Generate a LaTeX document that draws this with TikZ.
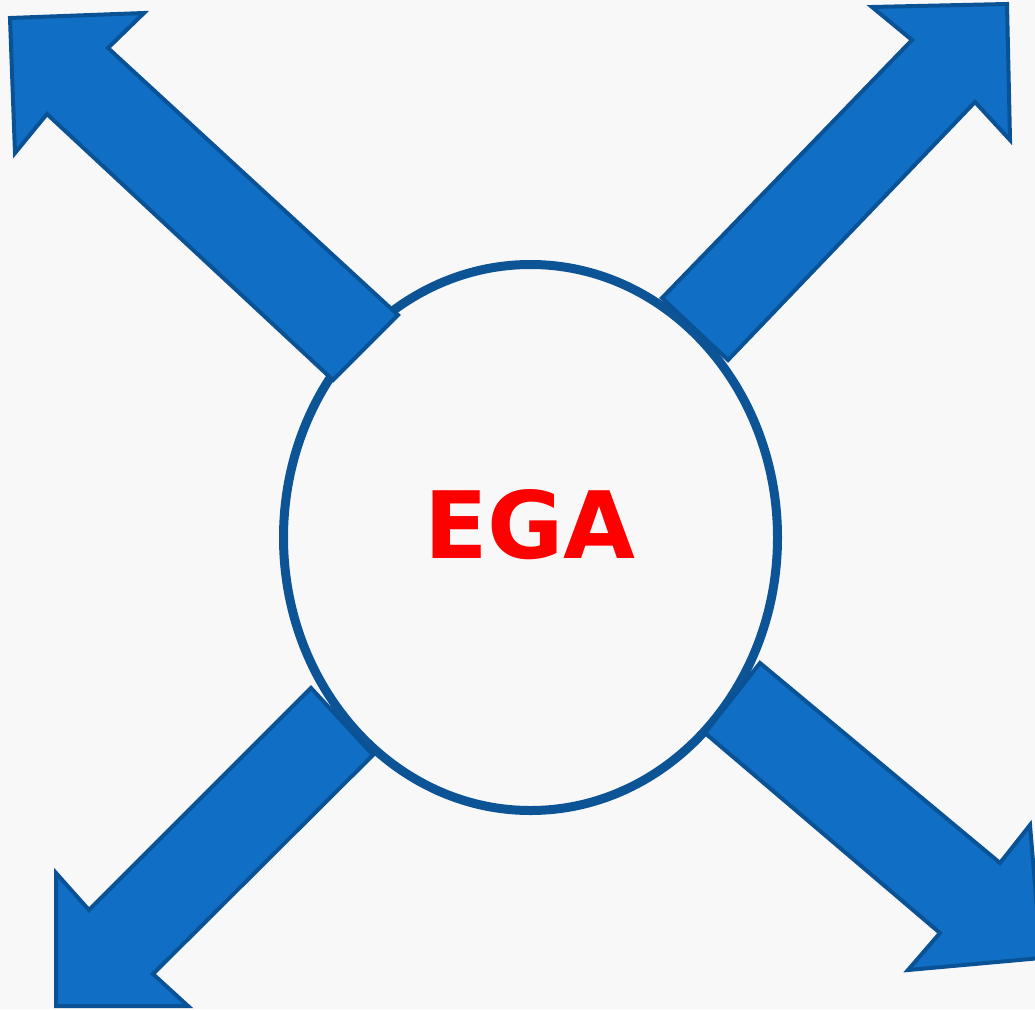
\documentclass[tikz,border=0pt]{standalone}
\usepackage{fontspec}
\newfontfamily\egafont{DejaVu Sans}
\usetikzlibrary{shapes.geometric}
\definecolor{bg}{RGB}{248,248,248}
\definecolor{arrowfill}{RGB}{16,111,196}
\definecolor{arrowline}{RGB}{10,82,150}
\definecolor{ringline}{RGB}{12,84,150}
\definecolor{egared}{RGB}{255,0,0}
\tikzset{
  blockarrow/.style={fill=arrowfill, draw=arrowline, line width=4pt, line join=miter},
  ring/.style={draw=ringline, line width=9pt, ellipse, minimum width=494pt, minimum height=546pt, inner sep=0pt},
  egatext/.style={font=\egafont\bfseries\fontsize{93}{93}\selectfont, text=egared, inner sep=0pt}
}
\begin{document}
\begin{tikzpicture}[x=1pt,y=-1pt]
\fill[bg] (0,0) rectangle (1035,1009);
\useasboundingbox (0,0) rectangle (1035,1009);
\node[ring] (c) at (530.5,537.5) {};
% arrows
\draw[blockarrow] (333,380) -- (47,114) -- (15,153) -- (10,18) -- (144,13) -- (108,48) -- (398,315) -- cycle;
\draw[blockarrow] (662,298) -- (912,40) -- (872,7) -- (1007,4) -- (1010,140) -- (975,102) -- (728,360) -- cycle;
\draw[blockarrow] (311,688) -- (89,910) -- (56,873) -- (56,1006) -- (188,1006) -- (153,974) -- (373,755) -- cycle;
\draw[blockarrow] (760,663) -- (1000,863) -- (1030,825) -- (1041,958) -- (908,970) -- (940,933) -- (705,733) -- cycle;
\node[egatext] (ega) at (530,525) {EGA};
\end{tikzpicture}
\end{document}
